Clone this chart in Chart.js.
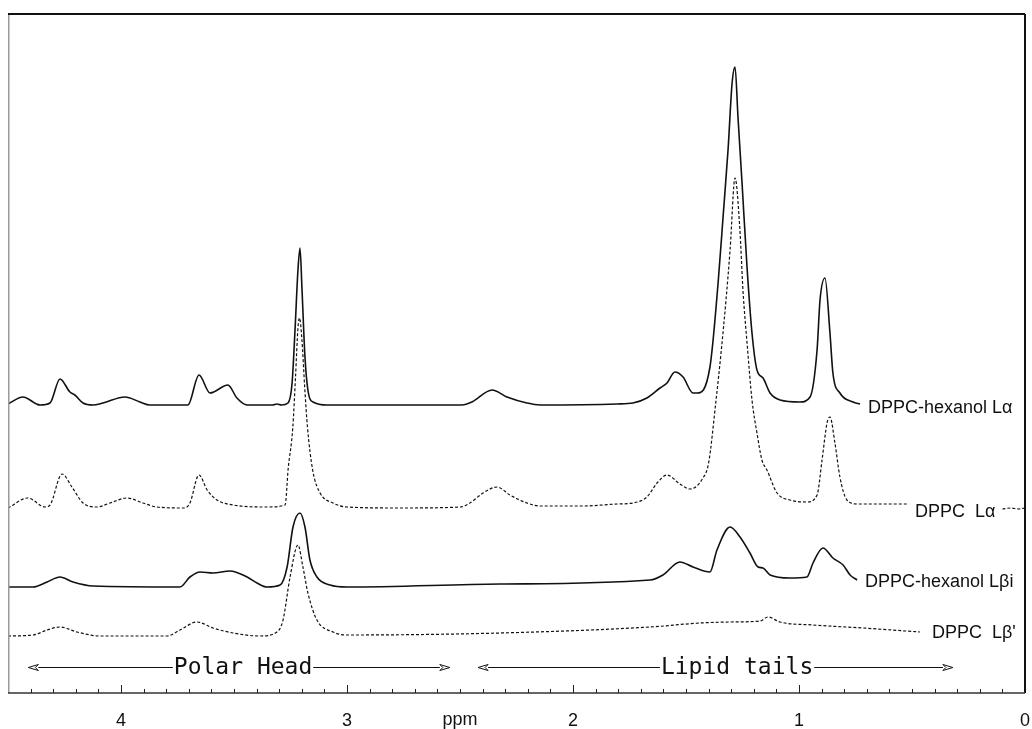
<!DOCTYPE html>
<html>
<head>
<meta charset="utf-8">
<script src="https://cdn.jsdelivr.net/npm/chart.js@4.4.1/dist/chart.umd.min.js"></script>
<style>
  html, body { margin: 0; padding: 0; background: #fff; }
  #wrap { width: 1032px; height: 729px; }
</style>
</head>
<body>
<div id="wrap"><canvas id="nmr" width="1032" height="729"></canvas></div>
<script>
// chemical shift (ppm) and intensity, intensity relative to its own baseline

// DPPC-hexanol L-alpha (solid, top)
const ppmHexLa = [4.50, 4.434, 4.358, 4.314, 4.27, 4.226, 4.204, 4.168, 4.124, 4.08,
  3.982, 3.916, 3.872, 3.704, 3.655, 3.606, 3.527, 3.487, 3.442, 3.33,
  3.31, 3.29, 3.261, 3.243, 3.23, 3.217, 3.208, 3.199, 3.186, 3.173,
  3.15, 3.088, 2.606, 2.491, 2.447, 2.358, 2.292, 2.204, 2.146, 1.805,
  1.735, 1.673, 1.615, 1.584, 1.549, 1.513, 1.469, 1.451, 1.394, 1.358,
  1.336, 1.314, 1.296, 1.283, 1.27, 1.252, 1.23, 1.208, 1.186, 1.159,
  1.128, 1.084, 0.996, 0.951, 0.92, 0.907, 0.885, 0.863, 0.85, 0.819,
  0.761, 0.73];
const intHexLa = [1, 8, 0, 2, 26, 13, 10, 2, 0, 2,
  8, 3, 0, 0, 30, 12, 20, 7, 0, 0,
  1, 0, 2, 22, 75, 135, 157, 115, 48, 15,
  3, 0, 0, 0, 3, 15, 8, 2, 0, 1,
  2, 7, 17, 22, 33, 28, 12, 12, 38, 122,
  188, 255, 322, 338, 288, 222, 138, 72, 35, 27,
  12, 5, 3, 8, 55, 105, 127, 72, 32, 12,
  3, 1];

// DPPC L-alpha (dotted); null = break where the label sits
const ppmLa = [4.50, 4.412, 4.336, 4.314, 4.261, 4.217, 4.168, 4.106, 4.049, 3.973,
  3.903, 3.841, 3.72, 3.695, 3.655, 3.619, 3.575, 3.504, 3.354, 3.274,
  3.26, 3.24, 3.228, 3.217, 3.21, 3.20, 3.187, 3.175, 3.152, 3.119,
  3.062, 3.00, 2.765, 2.50, 2.456, 2.398, 2.336, 2.279, 2.204, 2.146,
  1.956, 1.805, 1.735, 1.673, 1.628, 1.584, 1.527, 1.482, 1.425, 1.40,
  1.367, 1.345, 1.323, 1.305, 1.283, 1.262, 1.248, 1.228, 1.208, 1.186,
  1.164, 1.142, 1.097, 1.04, 0.965, 0.92, 0.898, 0.876, 0.863, 0.841,
  0.819, 0.788, 0.743, 0.642, 0.522, 0.30, 0.10, 0.065, 0.03, 0.0];
const intLa = [0, 10, 1, 3, 34, 21, 5, 1, 5, 10,
  5, 1, 0, 5, 33, 18, 8, 3, 1, 3,
  40, 80, 130, 180, 190, 170, 120, 81, 38, 15,
  5, 1, 0, 1, 5, 15, 21, 13, 5, 2,
  2, 4, 5, 11, 25, 33, 24, 19, 30, 45,
  108, 155, 208, 258, 330, 280, 218, 160, 108, 75,
  48, 38, 15, 8, 6, 13, 48, 85, 91, 65,
  31, 8, 4, 4, 4, null, -1, 0, -1, 0];

// DPPC-hexanol L-beta-i (solid)
const ppmHexLbi = [4.50, 4.389, 4.327, 4.27, 4.212, 4.124, 3.739, 3.695, 3.65, 3.593,
  3.518, 3.442, 3.398, 3.354, 3.296, 3.265, 3.239, 3.208, 3.186, 3.164,
  3.133, 3.075, 3.00, 2.323, 1.659, 1.602, 1.527, 1.469, 1.394, 1.363,
  1.305, 1.261, 1.217, 1.181, 1.159, 1.128, 1.04, 0.965, 0.938, 0.894,
  0.85, 0.805, 0.774, 0.743];
const intHexLbi = [0, 0, 5, 10, 5, 1, 0, 10, 15, 14,
  16, 10, 4, 0, 2, 20, 60, 74, 60, 27,
  10, 2, 0, 3, 7, 12, 25, 20, 15, 37,
  60, 50, 34, 20, 19, 12, 9, 10, 24, 39,
  29, 22, 12, 7];

// DPPC L-beta' (dotted, bottom)
const ppmLb = [4.50, 4.389, 4.327, 4.27, 4.195, 4.093, 3.796, 3.739, 3.664, 3.593,
  3.504, 3.385, 3.31, 3.283, 3.252, 3.217, 3.195, 3.173, 3.133, 3.062,
  3.00, 2.323, 1.659, 1.438, 1.305, 1.173, 1.137, 1.084, 0.938, 0.717,
  0.465];
const intLb = [0, 1, 6, 9, 4, 0, 0, 6, 14, 8,
  3, 0, 4, 16, 59, 91, 69, 43, 16, 4,
  1, 3, 9, 13, 14, 15, 19, 14, 11, 8,
  4];

// vertical stacking offsets of the four spectra
const baseHexLa = 288;
const baseLa = 185;
const baseHexLbi = 106;
const baseLb = 57;

const traceNames = ['DPPC-hexanol L\u03b1', 'DPPC  L\u03b1', 'DPPC-hexanol L\u03b2i', "DPPC  L\u03b2'"];
const regionNames = ['Polar Head', 'Lipid tails'];
const regionFrom = [4.41, 2.42];
const regionTo = [2.545, 0.319];

function trace(ppm, inten, base) {
  return ppm.map((v, i) => ({ x: v, y: inten[i] === null ? null : inten[i] + base }));
}

const INK = '#111';

// label anchors (ppm, level) and region text centres
const labelAt = [[0.695, 285], [0.487, 181], [0.708, 111], [0.412, 60]];
const regionTextAt = [3.46, 1.274];
const regionLevel = 26;

const decorations = {
  id: 'decorations',
  afterDraw(chart) {
    const { ctx, chartArea: a, scales: { x, y } } = chart;
    ctx.save();

    // frame
    ctx.lineCap = 'butt';
    ctx.strokeStyle = '#9a9a9a';
    ctx.lineWidth = 1.5;
    ctx.beginPath(); ctx.moveTo(a.left + 0.75, a.top); ctx.lineTo(a.left + 0.75, a.bottom); ctx.stroke();
    ctx.strokeStyle = INK;
    ctx.lineWidth = 2;
    ctx.beginPath(); ctx.moveTo(a.left, a.top); ctx.lineTo(a.right, a.top); ctx.stroke();
    ctx.beginPath(); ctx.moveTo(a.right, a.top); ctx.lineTo(a.right, a.bottom); ctx.stroke();
    ctx.strokeStyle = '#333';
    ctx.lineWidth = 1.5;
    ctx.beginPath(); ctx.moveTo(a.left, a.bottom); ctx.lineTo(a.right, a.bottom); ctx.stroke();

    // inward tick marks every 0.1 ppm
    ctx.lineWidth = 1;
    ctx.strokeStyle = '#222';
    ctx.beginPath();
    for (let i = 1; i < 45; i++) {
      const px = Math.round(x.getPixelForValue(i / 10)) + 0.5;
      const len = i % 10 === 0 ? 8 : 4;
      ctx.moveTo(px, a.bottom);
      ctx.lineTo(px, a.bottom - len);
    }
    ctx.stroke();

    // axis unit
    ctx.fillStyle = INK;
    ctx.font = '18px "Liberation Sans", Arial, sans-serif';
    ctx.textAlign = 'center';
    ctx.textBaseline = 'middle';
    ctx.fillText('ppm', x.getPixelForValue(2.5), 720);

    // trace labels
    ctx.textAlign = 'left';
    traceNames.forEach((name, i) => {
      ctx.fillText(name, x.getPixelForValue(labelAt[i][0]), y.getPixelForValue(labelAt[i][1]));
    });

    // region arrows
    ctx.font = '23px "DejaVu Sans Mono", monospace';
    ctx.textBaseline = 'alphabetic';
    ctx.lineWidth = 1.2;
    ctx.strokeStyle = INK;
    const ay = Math.round(y.getPixelForValue(regionLevel)) + 0.5;
    regionNames.forEach((name, i) => {
      const x0 = x.getPixelForValue(regionFrom[i]);
      const x1 = x.getPixelForValue(regionTo[i]);
      const xc = x.getPixelForValue(regionTextAt[i]);
      const w = ctx.measureText(name).width;
      ctx.textAlign = 'center';
      ctx.fillText(name, xc, ay + 6);
      ctx.beginPath();
      ctx.moveTo(x0 + 10, ay); ctx.lineTo(xc - w / 2 - 1, ay);
      ctx.moveTo(xc + w / 2 + 1, ay); ctx.lineTo(x1 - 10, ay);
      ctx.stroke();
      // open arrow heads
      ctx.lineWidth = 1;
      [[x0, 1], [x1, -1]].forEach(([tx, d]) => {
        ctx.beginPath();
        ctx.moveTo(tx, ay);
        ctx.lineTo(tx + d * 10, ay - 3);
        ctx.lineTo(tx + d * 7, ay);
        ctx.lineTo(tx + d * 10, ay + 3);
        ctx.closePath();
        ctx.stroke();
      });
      ctx.lineWidth = 1.2;
    });

    ctx.restore();
  }
};

new Chart(document.getElementById('nmr'), {
  type: 'line',
  data: {
    datasets: [
      { label: traceNames[0], data: trace(ppmHexLa, intHexLa, baseHexLa), borderColor: INK, borderWidth: 1.6 },
      { label: traceNames[1], data: trace(ppmLa, intLa, baseLa), borderColor: INK, borderWidth: 1.2, borderDash: [3, 2] },
      { label: traceNames[2], data: trace(ppmHexLbi, intHexLbi, baseHexLbi), borderColor: INK, borderWidth: 1.6 },
      { label: traceNames[3], data: trace(ppmLb, intLb, baseLb), borderColor: INK, borderWidth: 1.2, borderDash: [3, 2] }
    ]
  },
  options: {
    responsive: false,
    animation: false,
    devicePixelRatio: 1,
    layout: { padding: { left: 8, right: 7, top: 14, bottom: 0 } },
    elements: {
      point: { radius: 0 },
      line: { cubicInterpolationMode: 'monotone', fill: false }
    },
    plugins: { legend: { display: false }, tooltip: { enabled: false } },
    scales: {
      x: {
        type: 'linear',
        reverse: true,
        min: 0,
        max: 4.5,
        grid: { display: false },
        border: { display: false },
        ticks: {
          stepSize: 1,
          includeBounds: false,
          autoSkip: false,
          maxRotation: 0,
          padding: 9,
          color: INK,
          font: { family: '"Liberation Sans", Arial, sans-serif', size: 18 },
          callback: v => Number.isInteger(v) ? String(v) : ''
        },
        afterFit: s => { s.height = 36; s.paddingLeft = 0; s.paddingRight = 0; }
      },
      y: { display: false, min: 0, max: 679 }
    }
  },
  plugins: [decorations]
});
</script>
</body>
</html>
